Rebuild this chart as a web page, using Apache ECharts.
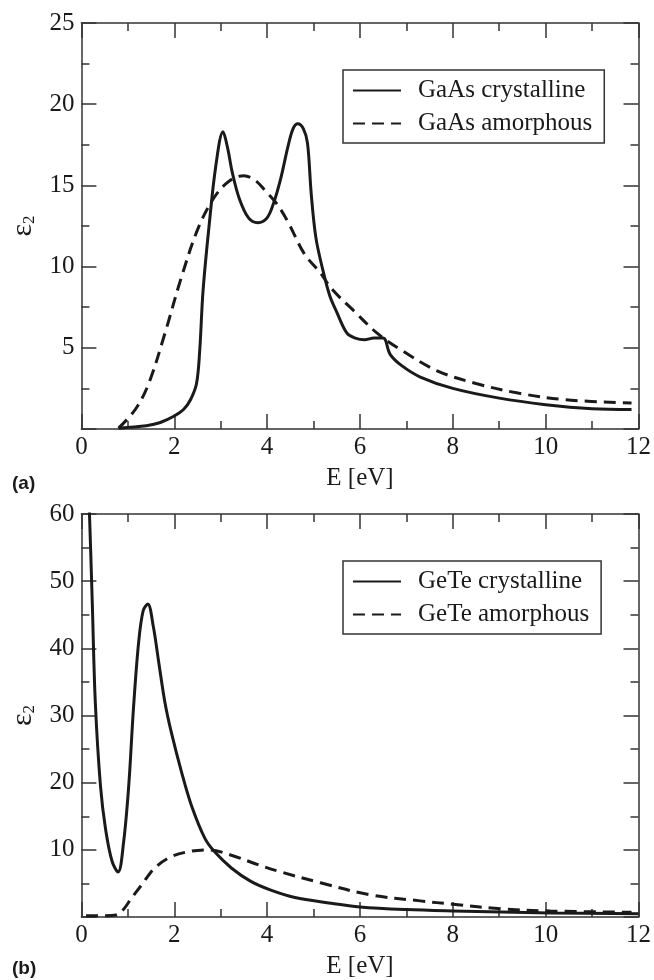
<!DOCTYPE html>
<html>
<head>
<meta charset="utf-8">
<script src="https://cdn.jsdelivr.net/npm/echarts@6/dist/echarts.min.js"></script>
<style>
  html, body { margin: 0; padding: 0; background: #fff; }
  #chart { width: 654px; height: 980px; }
</style>
</head>
<body>
<div id="chart"></div>
<script>
// [E (eV), eps2]
const gaasCrystalline = [
  [0.8, 0.05], [1.0, 0.1], [1.4, 0.2], [1.7, 0.4], [2.0, 0.8], [2.2, 1.2], [2.35, 1.8],
  [2.48, 2.8], [2.55, 4.9], [2.62, 8.5], [2.75, 12.5], [2.9, 16.3], [3.05, 18.3], [3.15, 17.3],
  [3.25, 15.8], [3.4, 14.2], [3.6, 13.0], [3.8, 12.7], [4.0, 13.0], [4.15, 14.0], [4.3, 15.5],
  [4.45, 17.4], [4.56, 18.5], [4.66, 18.8], [4.78, 18.5], [4.87, 17.6], [4.95, 14.5], [5.05, 11.8],
  [5.2, 9.8], [5.35, 8.2], [5.5, 7.2], [5.72, 5.9], [5.9, 5.6], [6.1, 5.5], [6.3, 5.6], [6.5, 5.6],
  [6.65, 4.6], [6.9, 3.9], [7.3, 3.2], [8.0, 2.5], [9.0, 1.9], [10.0, 1.5], [11.0, 1.25], [11.85, 1.2]
];
const gaasAmorphous = [
  [0.8, 0.05], [1.16, 1.2], [1.45, 2.8], [1.8, 5.9], [2.16, 9.4], [2.52, 12.4], [2.87, 14.3],
  [3.2, 15.3], [3.5, 15.6], [3.75, 15.3], [3.95, 14.7], [4.2, 13.9], [4.44, 12.8], [4.8, 10.8],
  [5.15, 9.6], [5.4, 8.6], [5.86, 7.3], [6.37, 5.9], [6.87, 4.9], [7.65, 3.6], [8.5, 2.8],
  [9.43, 2.2], [10.43, 1.8], [11.85, 1.6]
];
const geteCrystalline = [
  [0.15, 65], [0.2, 54.5], [0.235, 46.6], [0.3, 31.9], [0.41, 19.6], [0.52, 13.1], [0.66, 8.3],
  [0.79, 6.7], [0.91, 11.2], [1.02, 19.6], [1.12, 30.9], [1.23, 40.7], [1.33, 45.6], [1.43, 46.6],
  [1.55, 43.2], [1.66, 38.2], [1.8, 31.9], [1.94, 27.4], [2.16, 21.5], [2.37, 16.6], [2.66, 11.7],
  [2.87, 9.7], [3.23, 7.3], [3.65, 5.3], [4.08, 4.0], [4.6, 2.9], [5.33, 2.1], [6.0, 1.5],
  [7.0, 1.1], [8.0, 0.9], [10.1, 0.6], [12, 0.5]
];
const geteAmorphous = [
  [0.1, 0.2], [0.5, 0.2], [0.75, 0.3], [0.88, 0.9], [1.08, 2.8], [1.3, 4.8], [1.58, 7.3],
  [1.94, 9.0], [2.37, 9.8], [2.73, 10.0], [3.23, 9.2], [3.8, 7.8], [4.3, 6.7], [5.15, 5.1],
  [6.22, 3.3], [7.3, 2.4], [8.0, 1.9], [9.07, 1.2], [10.1, 0.9], [11.85, 0.7]
];
const xRange = [0, 12, 2];
const yRangeA = [0, 25, 5];
const yRangeB = [0, 60, 10];

const SERIF = 'Liberation Serif';
const INK = '#1a1a1a';
const AXIS = '#333';

function axisBase(gridIndex, r) {
  return {
    gridIndex, type: 'value', min: r[0], max: r[1], interval: r[2],
    splitLine: { show: false },
    axisLine: { onZero: false, lineStyle: { color: AXIS, width: 1.5 } },
    axisTick: { inside: true, length: 15, lineStyle: { color: AXIS, width: 1.5 } },
    minorTick: { show: true, splitNumber: 2, length: 8, lineStyle: { color: AXIS, width: 1.5 } },
  };
}

function xAxes(gridIndex) {
  return [
    Object.assign(axisBase(gridIndex, xRange), {
      position: 'bottom',
      name: 'E [eV]', nameLocation: 'middle', nameGap: 37,
      nameTextStyle: { fontFamily: SERIF, fontSize: 25, color: INK },
      axisLabel: { margin: 6, fontFamily: SERIF, fontSize: 25, color: INK },
    }),
    Object.assign(axisBase(gridIndex, xRange), { position: 'top', axisLabel: { show: false } }),
  ];
}

function yAxes(gridIndex, r) {
  return [
    Object.assign(axisBase(gridIndex, r), {
      position: 'left',
      name: '{e|ε}{s|2}', nameLocation: 'middle', nameGap: 42, nameRotate: 90,
      nameTextStyle: {
        color: INK,
        rich: {
          e: { fontFamily: SERIF, fontSize: 30, color: INK },
          s: { fontFamily: SERIF, fontSize: 17, color: INK, verticalAlign: 'bottom', padding: [14, 0, 0, 0] },
        },
      },
      axisLabel: {
        margin: 7, fontFamily: SERIF, fontSize: 25, color: INK,
        formatter: v => (v === 0 ? '' : String(v)),
      },
    }),
    Object.assign(axisBase(gridIndex, r), { position: 'right', axisLabel: { show: false } }),
  ];
}

function legend(top, names) {
  return {
    data: names, orient: 'vertical', left: 343, top,
    borderColor: AXIS, borderWidth: 1.5, borderRadius: 0,
    padding: [8, 12, 7, 9], itemGap: 8, itemWidth: 48, itemHeight: 14,
    itemStyle: { opacity: 0 },
    textStyle: { fontFamily: SERIF, fontSize: 25, color: INK, padding: [0, 0, 0, 12] },
  };
}

function line(name, data, xi, yi, dashed) {
  return {
    name, type: 'line', data, xAxisIndex: xi, yAxisIndex: yi,
    symbol: 'none', smooth: 0.35, clip: true,
    lineStyle: { color: INK, width: 3, type: dashed ? [12, 7] : 'solid' },
    itemStyle: { color: INK },
  };
}

const chart = echarts.init(document.getElementById('chart'), null, { renderer: 'canvas' });
chart.setOption({
  backgroundColor: '#fff',
  animation: false,
  grid: [
    { left: 79, right: 14, top: 23, height: 406 },
    { left: 79, right: 14, top: 514, height: 407 },
  ],
  xAxis: [...xAxes(0), ...xAxes(1)],
  yAxis: [...yAxes(0, yRangeA), ...yAxes(1, yRangeB)],
  legend: [
    legend(70, ['GaAs crystalline', 'GaAs amorphous']),
    legend(561, ['GeTe crystalline', 'GeTe amorphous']),
  ],
  graphic: [
    { type: 'text', left: 12, top: 474, style: { text: '(a)', font: 'bold 19px "Liberation Sans"', fill: INK } },
    { type: 'text', left: 12, top: 959, style: { text: '(b)', font: 'bold 19px "Liberation Sans"', fill: INK } },
  ],
  series: [
    line('GaAs crystalline', gaasCrystalline, 0, 0, false),
    line('GaAs amorphous', gaasAmorphous, 0, 0, true),
    line('GeTe crystalline', geteCrystalline, 2, 2, false),
    line('GeTe amorphous', geteAmorphous, 2, 2, true),
  ],
});
</script>
</body>
</html>
